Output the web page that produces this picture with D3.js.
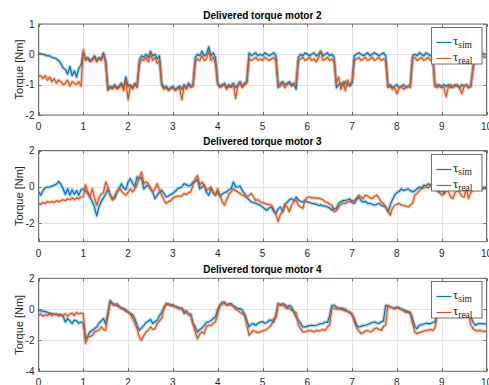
<!DOCTYPE html>
<html>
<head>
<meta charset="utf-8">
<script src="https://cdn.jsdelivr.net/npm/d3@7"></script>
<style>
  body { margin: 0; background: #fff; }
  svg { display: block; }
</style>
</head>
<body>
<svg id="chart" width="489" height="385"></svg>
<script>
// sampled every 0.05 s, 0..10 s
const sampleStep = 0.05;
const xTicks = [0, 1, 2, 3, 4, 5, 6, 7, 8, 9, 10];
const titles = ["Delivered torque motor 2", "Delivered torque motor 3", "Delivered torque motor 4"];
const yLabel = "Torque [Nm]";
const legendSubs = ["sim", "real"];
const yTicks = [[-2, -1, 0, 1], [-2, 0, 2], [-4, -2, 0, 2]];
const yDomains = [[-2, 1], [-3, 2], [-4, 2]];

const motor2Sim = [
  0.05, 0.02, 0.0, -0.02, -0.05, -0.05, -0.1, -0.12, -0.15, -0.2, -0.3, -0.45, -0.5, -0.65, -0.4, -0.7, -0.55, -0.75, -0.45, -0.35, 0.05,
  -0.15, -0.1, -0.2, -0.15, -0.05, -0.2, -0.1, -0.15, 0.05, -0.2,
  -1.15, -1.05, -1.1, -1.0, -1.1, -1.05, -0.95, -1.1, -0.75, -1.05, -1.0, -1.1, -0.95, -1.05,
  -0.2, -0.05, -0.1, 0.0, -0.1, 0.1, -0.05, 0.0, -0.15, -0.05,
  -0.95, -1.1, -1.05, -1.15, -1.1, -1.05, -1.15, -1.1, -1.05, -1.15, -1.0, -1.1, -0.95, -1.05, -1.0,
  -0.1, 0.0, -0.05, 0.1, -0.05, 0.0, 0.25, -0.05, 0.05, -0.1,
  -0.95, -1.05, -1.0, -0.95, -1.1, -1.0, -1.05, -0.95, -1.1, -1.0, -0.9, -1.05, -0.95, -0.9,
  0.05, -0.05, 0.0, 0.05, -0.05, 0.0, -0.05, 0.05, 0.0, -0.05, 0.0, 0.05, -0.05,
  -1.1, -0.95, -0.9, -1.0, -0.95, -0.9, -1.0, -0.95, -1.15,
  -0.1, 0.0, -0.05, 0.05, 0.0, -0.05, 0.0, 0.05, -0.05, 0.0, 0.1, -0.05, 0.0, 0.05, -0.05, 0.0, -0.1,
  -1.1, -1.0, -0.95, -1.05, -0.9, -1.0, -1.05, -0.95,
  -0.05, 0.0, 0.05, 0.0, -0.05, 0.0, 0.05, -0.05, 0.0, 0.05, 0.0, -0.05, 0.0, 0.05, -0.05,
  -1.05, -1.0, -1.1, -1.05, -1.0, -1.1, -1.05, -1.0, -1.1, -1.05, -1.0,
  -0.05, 0.0, -0.05, 0.05, 0.0, -0.05, 0.05, 0.0, -0.05, 0.0,
  -1.05, -1.0, -1.05, -1.1, -1.0, -1.05, -1.0, -1.1, -1.05, -1.0, -1.05, -1.1, -1.0, -1.05, -1.0, -1.1, -1.05,
  -0.45, -0.1, 0.0, -0.05, 0.05, 0.0, 0.0
];
const motor2Real = [
  -0.75, -0.7, -0.8, -0.7, -0.85, -0.75, -0.9, -0.8, -0.95, -0.85, -0.9, -1.0, -0.95, -0.85, -1.05, -0.9, -0.95, -1.0, -0.9, -1.05, 0.15,
  -0.2, -0.15, -0.25, -0.2, -0.1, -0.25, -0.15, -0.2, 0.0, -0.3,
  -1.2, -1.1, -1.15, -1.05, -1.15, -1.1, -1.0, -1.2, -0.85, -1.5, -1.05, -1.15, -1.0, -1.1,
  -0.35, -0.15, -0.2, -0.1, -0.25, 0.0, -0.2, -0.1, -0.3, -0.2,
  -1.0, -1.15, -1.1, -1.2, -1.15, -1.1, -1.2, -1.15, -1.1, -1.5, -1.05, -1.15, -1.0, -1.1, -1.05,
  -0.25, -0.15, -0.2, -0.05, -0.2, -0.15, 0.1, -0.2, -0.1, -0.3,
  -1.0, -1.1, -1.05, -1.0, -1.15, -1.05, -1.1, -1.0, -1.45, -1.05, -0.95, -1.1, -1.0, -0.95,
  -0.15, -0.2, -0.15, -0.1, -0.2, -0.15, -0.2, -0.1, -0.15, -0.2, -0.15, -0.1, -0.2,
  -1.0, -1.05, -0.95, -1.1, -1.0, -0.95, -1.05, -1.0, -0.95,
  -0.2, -0.15, -0.1, -0.2, -0.15, -0.1, -0.2, -0.15, -0.25, -0.1, 0.1, -0.2, -0.15, -0.1, -0.2, -0.15, -0.25,
  -0.95, -0.75, -1.15, -0.9, -1.2, -0.85, -1.0, -0.9,
  -0.2, -0.15, -0.1, -0.2, -0.15, -0.1, -0.2, -0.15, -0.1, -0.2, -0.15, -0.1, -0.2, -0.15, -0.2,
  -1.1, -1.05, -1.15, -1.1, -1.3, -1.1, -1.05, -1.15, -1.1, -1.05, -1.1,
  -0.15, -0.1, -0.2, -0.15, -0.1, -0.2, -0.15, -0.1, -0.2, -0.15,
  -1.05, -1.1, -1.0, -1.05, -1.1, -1.4, -1.05, -1.0, -1.1, -1.05, -1.0, -1.1, -1.3, -1.05, -1.0, -1.1, -1.05,
  -0.4, -0.15, -0.1, -0.15, -0.05, -0.1, -0.1
];
const motor3Sim = [
  -0.25, -0.45, -0.2, -0.05, 0.0, 0.0, 0.05, 0.1, 0.15, 0.3, 0.15, -0.1, -0.4, -0.1, -0.45, -0.15, -0.4, -0.2, -0.45, -0.15, -0.1,
  -0.2, -0.36, -0.55, -0.8, -1.1, -1.58, -1.1, -0.8, -0.6, -0.4,
  -0.1, -0.45, -0.6, -0.64, -0.3, -0.1, 0.18, -0.05, -0.15, 0.27,
  0.45, 0.2, 0.0, 0.55, 0.45, 0.5, -0.1, 0.05, 0.1, -0.1,
  -0.27, -0.64, -0.45, -0.3, -0.18, -0.35, -0.55, -0.5, -0.42, -0.35,
  -0.25, -0.1, -0.05, 0.0, 0.18, 0.13, 0.05, 0.1, 0.27, 0.3,
  0.4, -0.1, 0.0, 0.1, -0.3, -0.45, -0.1, -0.3, -0.45, -0.27,
  -0.5, -0.4, -0.3, -0.27, -0.15, -0.1, 0.27, 0.0, 0.0, 0.05,
  -0.2, -0.36, -0.6, -0.7, -0.82, -0.85, -0.9, -0.95, -1.0, -1.1,
  -1.2, -1.27, -1.15, -1.1, -1.35, -1.45, -1.2, -1.1, -1.36, -0.95,
  -0.85, -0.7, -0.64, -0.75, -0.55, -0.7, -0.8, -0.82, -0.75, -0.82,
  -0.85, -0.9, -0.91, -0.95, -1.0, -0.98, -1.04, -1.05, -1.1, -1.15,
  -1.27, -1.2, -1.18, -0.9, -0.8, -0.75, -0.73, -0.7, -0.65, -0.85,
  -0.9, -0.7, -0.55, -0.75, -0.82, -0.8, -0.9, -0.9, -0.95, -1.0,
  -0.95, -0.9, -1.0, -1.05, -1.1, -1.36, -1.0, -0.7, -0.45, -0.3,
  -0.25, -0.1, -0.2, -0.15, -0.1, -0.2, -0.27, -0.2, -0.1, 0.0,
  -0.05, 0.1, 0.05, 0.18, 0.1, 0.05, 0.0, -0.2, -0.3, -0.1,
  -0.35, 0.0, 0.05, 0.0, 0.1, 0.05, 0.0, 0.1, 0.05, 0.0,
  0.1, 0.05, 0.0, 0.05, 0.0, -0.05, 0.0, -0.15, -0.05, -0.1
];
const motor3Real = [
  -0.9, -0.95, -0.85, -0.9, -0.8, -0.85, -0.8, -0.85, -0.75, -0.8, -0.75, -0.7, -0.75, -0.65, -0.7, -0.6, -0.7, -0.6, -0.65, -0.55, -0.55,
  0.13, -0.27, -0.55, -0.1, -0.6, -1.0, -0.55, -0.4, -0.3, 0.27,
  0.0, -0.45, -0.73, -0.5, -0.27, -0.05, -0.2, -0.36, -0.45, -0.3,
  -0.1, -0.27, -0.1, 0.13, 0.5, 0.82, 0.2, 0.27, 0.18, -0.1,
  -0.27, -0.1, 0.18, -0.2, -0.45, -0.7, -0.9, -0.8, -0.75, -0.6,
  -0.55, -0.5, -0.5, -0.5, -0.36, -0.42, -0.3, -0.27, 0.1, 0.45,
  0.64, 0.1, 0.27, 0.1, -0.18, -0.1, 0.0, -0.3, -0.45, -0.1,
  -0.45, -0.8, -1.0, -0.7, -0.4, -0.27, -0.1, -0.2, -0.27, -0.36,
  -0.45, -0.5, -0.55, -0.45, -0.36, -0.55, -0.73, -0.7, -0.82, -0.85,
  -0.9, -0.95, -0.95, -1.0, -1.2, -1.5, -1.9, -1.5, -1.36, -1.0,
  -1.1, -1.36, -1.0, -0.82, -0.73, -1.0, -1.1, -1.18, -0.7, -0.58,
  -0.55, -0.6, -0.6, -0.62, -0.6, -0.65, -0.7, -0.82, -0.85, -0.95,
  -1.0, -1.36, -1.3, -1.1, -0.95, -0.9, -0.9, -0.82, -0.8, -0.75,
  -0.73, -0.6, -0.45, -0.55, -0.64, -0.45, -0.5, -0.6, -0.64, -0.5,
  -0.45, -0.6, -0.82, -0.9, -1.1, -1.3, -1.55, -1.18, -1.0, -0.95,
  -0.9, -1.0, -1.0, -1.05, -1.1, -1.0, -0.9, -0.45, -0.35, -0.2,
  -0.1, -0.05, 0.0, -0.05, 0.1, 0.05, -0.1, -0.2, -0.3, -0.45,
  -0.4, -0.2, -0.25, -0.55, -0.64, -0.3, -0.2, -0.3, -0.5, -0.55,
  -0.1, -0.64, -0.3, -0.2, -0.1, -0.15, -0.1, -0.05, 0.0, -0.05
];
const motor4Sim = [
  -0.06, -0.1, -0.12, -0.15, -0.2, -0.25, -0.28, -0.3, -0.35, -0.32, -0.38, -0.45, -0.82, -0.6, -0.75, -0.92, -0.7, -0.75, -0.9, -0.82, -0.9,
  -1.9, -1.7, -1.46, -1.35, -1.25, -1.14, -0.9, -0.75, -0.6, -0.95,
  -0.2, 0.58, 0.4, 0.3, 0.26, 0.15, 0.1, 0.05, -0.05, -0.15,
  -0.28, -0.35, -0.6, -1.03, -1.35, -1.2, -1.05, -0.85, -0.75, -0.65,
  -0.92, -0.8, -0.7, -0.4, -0.2, 0.05, 0.37, 0.3, 0.25, 0.3,
  0.2, 0.15, 0.1, 0.08, -0.28, -0.1, -0.35, -0.4, -0.9, -1.14,
  -1.46, -1.3, -1.2, -1.03, -0.85, -0.8, -0.72, -0.6, -0.5, 0.0,
  0.26, 0.47, 0.4, 0.26, 0.35, 0.37, 0.2, 0.15, 0.05, 0.05,
  -0.06, -0.3, -0.7, -1.14, -0.95, -0.92, -1.03, -0.9, -0.82, -0.8,
  -0.9, -0.85, -0.7, -0.7, -0.82, -0.4, 0.37, 0.26, 0.37, 0.3,
  0.05, 0.26, 0.15, -0.2, -0.5, -0.7, -0.9, -1.14, -1.14, -1.1,
  -1.05, -1.03, -1.05, -1.03, -0.98, -0.92, -0.9, -0.82, -0.85, -0.4,
  0.26, 0.26, 0.15, 0.05, 0.0, 0.05, 0.0, -0.15, -0.2, -0.35,
  -0.6, -1.03, -1.14, -1.1, -1.05, -1.03, -0.98, -0.92, -0.85, -0.82,
  -0.88, -0.92, -0.8, -0.75, 0.26, 0.2, 0.15, 0.1, 0.05, 0.15,
  0.1, 0.0, -0.05, -0.1, -0.15, -0.2, -0.6, -1.1, -1.25, -1.03,
  -1.0, -0.95, -0.9, -0.92, -0.92, -0.85, -0.82, -0.2, 0.1, 0.05,
  0.0, 0.1, 0.05, 0.0, 0.05, 0.1, 0.0, 0.05, 0.0, 0.05,
  0.0, 0.05, -0.5, -0.82, -1.03, -0.95, -0.92, -0.92, -0.95, -0.92
];
const motor4Real = [
  -0.39, -0.3, -0.45, -0.35, -0.4, -0.3, -0.42, -0.35, -0.3, -0.45, -0.35, -0.4, -0.28, -0.45, -0.3, -0.25, -0.4, -0.2, -0.3, -0.25, -0.3,
  -2.2, -1.8, -1.75, -1.68, -1.46, -1.4, -1.35, -1.14, -1.3, -1.35,
  -0.4, 0.47, 0.3, 0.26, 0.37, 0.2, 0.05, 0.0, -0.15, -0.2,
  -0.3, -0.6, -0.9, -1.25, -1.8, -2.0, -1.7, -1.46, -1.35, -1.14,
  -1.3, -1.25, -0.92, -0.75, -0.6, 0.15, 0.3, 0.37, 0.25, 0.2,
  0.15, 0.1, 0.0, 0.05, -0.1, -0.2, -0.28, -0.3, -1.0, -1.46,
  -1.9, -1.6, -1.46, -1.57, -1.1, -1.03, -1.05, -0.9, -0.82, -0.3,
  0.26, 0.3, 0.47, 0.3, 0.26, 0.3, 0.2, 0.0, -0.06, -0.2,
  -0.28, -0.4, -1.0, -1.68, -1.5, -1.36, -1.46, -1.5, -1.46, -1.4,
  -1.36, -1.3, -1.14, -1.0, -0.6, -0.5, 0.37, 0.3, 0.26, 0.15,
  0.2, 0.05, -0.06, -0.15, -0.2, -1.0, -1.25, -1.46, -1.46, -1.4,
  -1.36, -1.4, -1.46, -1.36, -1.4, -1.36, -1.3, -1.36, -1.14, -1.0,
  0.15, 0.05, 0.0, 0.05, 0.1, -0.06, -0.1, -0.15, -0.2, -0.3,
  -0.8, -1.2, -1.4, -1.57, -1.5, -1.4, -1.36, -1.46, -1.4, -1.25,
  -1.2, -1.3, -1.36, -1.1, -1.03, 0.26, 0.15, 0.1, 0.05, 0.1,
  0.05, 0.0, -0.1, -0.2, -0.2, -0.28, -0.9, -1.46, -1.57, -1.5,
  -1.46, -1.4, -1.36, -1.36, -1.3, -1.36, -1.2, -0.3, -0.1, -0.15,
  -0.1, -0.05, -0.1, -0.15, -0.1, -0.05, -0.1, -0.15, -0.1, -0.05,
  -0.1, -0.15, -1.0, -1.25, -1.36, -1.4, -1.36, -1.4, -1.42, -1.4
];
const simSeries = [motor2Sim, motor3Sim, motor4Sim];
const realSeries = [motor2Real, motor3Real, motor4Real];

// Layout
const plotLeft = 38.5;
const plotRight = 486.5;
const panelExtents = [[24, 115], [150.5, 241.7], [278.3, 371.3]];
const blue = "#0072BD";
const orange = "#D95319";

const svg = d3.select("svg#chart");
const x = d3.scaleLinear().domain([0, 10]).range([plotLeft, plotRight]);

panelExtents.forEach(([top, bottom], p) => {
  const y = d3.scaleLinear().domain(yDomains[p]).range([bottom, top]);
  const g = svg.append("g");

  g.append("clipPath")
    .attr("id", "clip" + p)
    .append("rect")
    .attr("x", plotLeft)
    .attr("y", top)
    .attr("width", plotRight - plotLeft)
    .attr("height", bottom - top);

  // grid
  g.append("g")
    .selectAll("line")
    .data(xTicks)
    .join("line")
    .attr("x1", (d) => Math.round(x(d)) + 0.5)
    .attr("x2", (d) => Math.round(x(d)) + 0.5)
    .attr("y1", top)
    .attr("y2", bottom)
    .style("stroke", "#e3e3e3");

  g.append("g")
    .selectAll("line")
    .data(yTicks[p])
    .join("line")
    .attr("x1", plotLeft)
    .attr("x2", plotRight)
    .attr("y1", (d) => Math.round(y(d)) + 0.5)
    .attr("y2", (d) => Math.round(y(d)) + 0.5)
    .style("stroke", "#e3e3e3");

  // series
  const line = d3
    .line()
    .x((d, i) => x(i * sampleStep))
    .y((d) => y(d));

  const lines = g.append("g").attr("clip-path", `url(#clip${p})`);
  [[simSeries[p], blue], [realSeries[p], orange]].forEach(([vals, color]) => {
    lines.append("path")
      .attr("d", line(vals))
      .style("fill", "none")
      .style("stroke", color)
      .style("stroke-opacity", 0.28)
      .style("stroke-width", 3.6)
      .style("stroke-linejoin", "round");
    lines.append("path")
      .attr("d", line(vals))
      .style("fill", "none")
      .style("stroke", color)
      .style("stroke-width", 1.2)
      .style("stroke-linejoin", "round");
  });

  // box + ticks
  g.append("rect")
    .attr("x", plotLeft)
    .attr("y", top)
    .attr("width", plotRight - plotLeft)
    .attr("height", bottom - top)
    .style("fill", "none")
    .style("stroke", "#6e6e6e")
    .style("stroke-width", 1);

  const tickLen = 3;
  xTicks.forEach((t) => {
    const xp = Math.round(x(t)) + 0.5;
    g.append("line").attr("x1", xp).attr("x2", xp).attr("y1", bottom).attr("y2", bottom - tickLen).style("stroke", "#6e6e6e");
    g.append("line").attr("x1", xp).attr("x2", xp).attr("y1", top).attr("y2", top + tickLen).style("stroke", "#6e6e6e");
  });
  yTicks[p].forEach((t) => {
    const yp = Math.round(y(t)) + 0.5;
    g.append("line").attr("x1", plotLeft).attr("x2", plotLeft + tickLen).attr("y1", yp).attr("y2", yp).style("stroke", "#6e6e6e");
    g.append("line").attr("x1", plotRight).attr("x2", plotRight - tickLen).attr("y1", yp).attr("y2", yp).style("stroke", "#6e6e6e");
  });

  // tick labels
  g.append("g")
    .selectAll("text")
    .data(xTicks)
    .join("text")
    .attr("x", (d) => x(d))
    .attr("y", bottom + 15)
    .attr("text-anchor", "middle")
    .style("font-family", "'Liberation Sans', Arial, sans-serif")
    .style("font-size", "10px")
    .style("fill", "#262626")
    .text((d) => d);

  g.append("g")
    .selectAll("text")
    .data(yTicks[p])
    .join("text")
    .attr("x", plotLeft - 4)
    .attr("y", (d) => y(d) + 3.5)
    .attr("text-anchor", "end")
    .style("font-family", "'Liberation Sans', Arial, sans-serif")
    .style("font-size", "10px")
    .style("fill", "#262626")
    .text((d) => d);

  // y label
  g.append("text")
    .attr("transform", `translate(23, ${(top + bottom) / 2}) rotate(-90)`)
    .attr("text-anchor", "middle")
    .style("font-family", "'Liberation Sans', Arial, sans-serif")
    .style("font-size", "11px")
    .style("fill", "#262626")
    .text(yLabel);

  // title
  g.append("text")
    .attr("x", (plotLeft + plotRight) / 2)
    .attr("y", top - 5.5)
    .attr("text-anchor", "middle")
    .style("font-family", "'Liberation Sans', Arial, sans-serif")
    .style("font-size", "10px")
    .style("font-weight", "bold")
    .style("fill", "#000")
    .text(titles[p]);

  // legend
  const lg = g.append("g").attr("transform", `translate(431.5, ${Math.round(top) + 3.5})`);
  lg.append("rect")
    .attr("width", 50.5)
    .attr("height", 36.5)
    .style("fill", "#fff")
    .style("stroke", "#6e6e6e");

  [blue, orange].forEach((color, k) => {
    const ly = 15 + k * 16;
    lg.append("line")
      .attr("x1", 5)
      .attr("x2", 20)
      .attr("y1", ly)
      .attr("y2", ly)
      .style("stroke", color)
      .style("stroke-width", 1.2);
    const txt = lg.append("text")
      .attr("x", 21.5)
      .attr("y", ly + 2)
      .style("font-family", "'Liberation Serif', 'Times New Roman', serif")
      .style("fill", "#262626");
    txt.append("tspan").style("font-size", "13px").text("τ");
    txt.append("tspan").attr("dy", 3).style("font-size", "9.5px").text(legendSubs[k]);
  });
});
</script>
</body>
</html>
